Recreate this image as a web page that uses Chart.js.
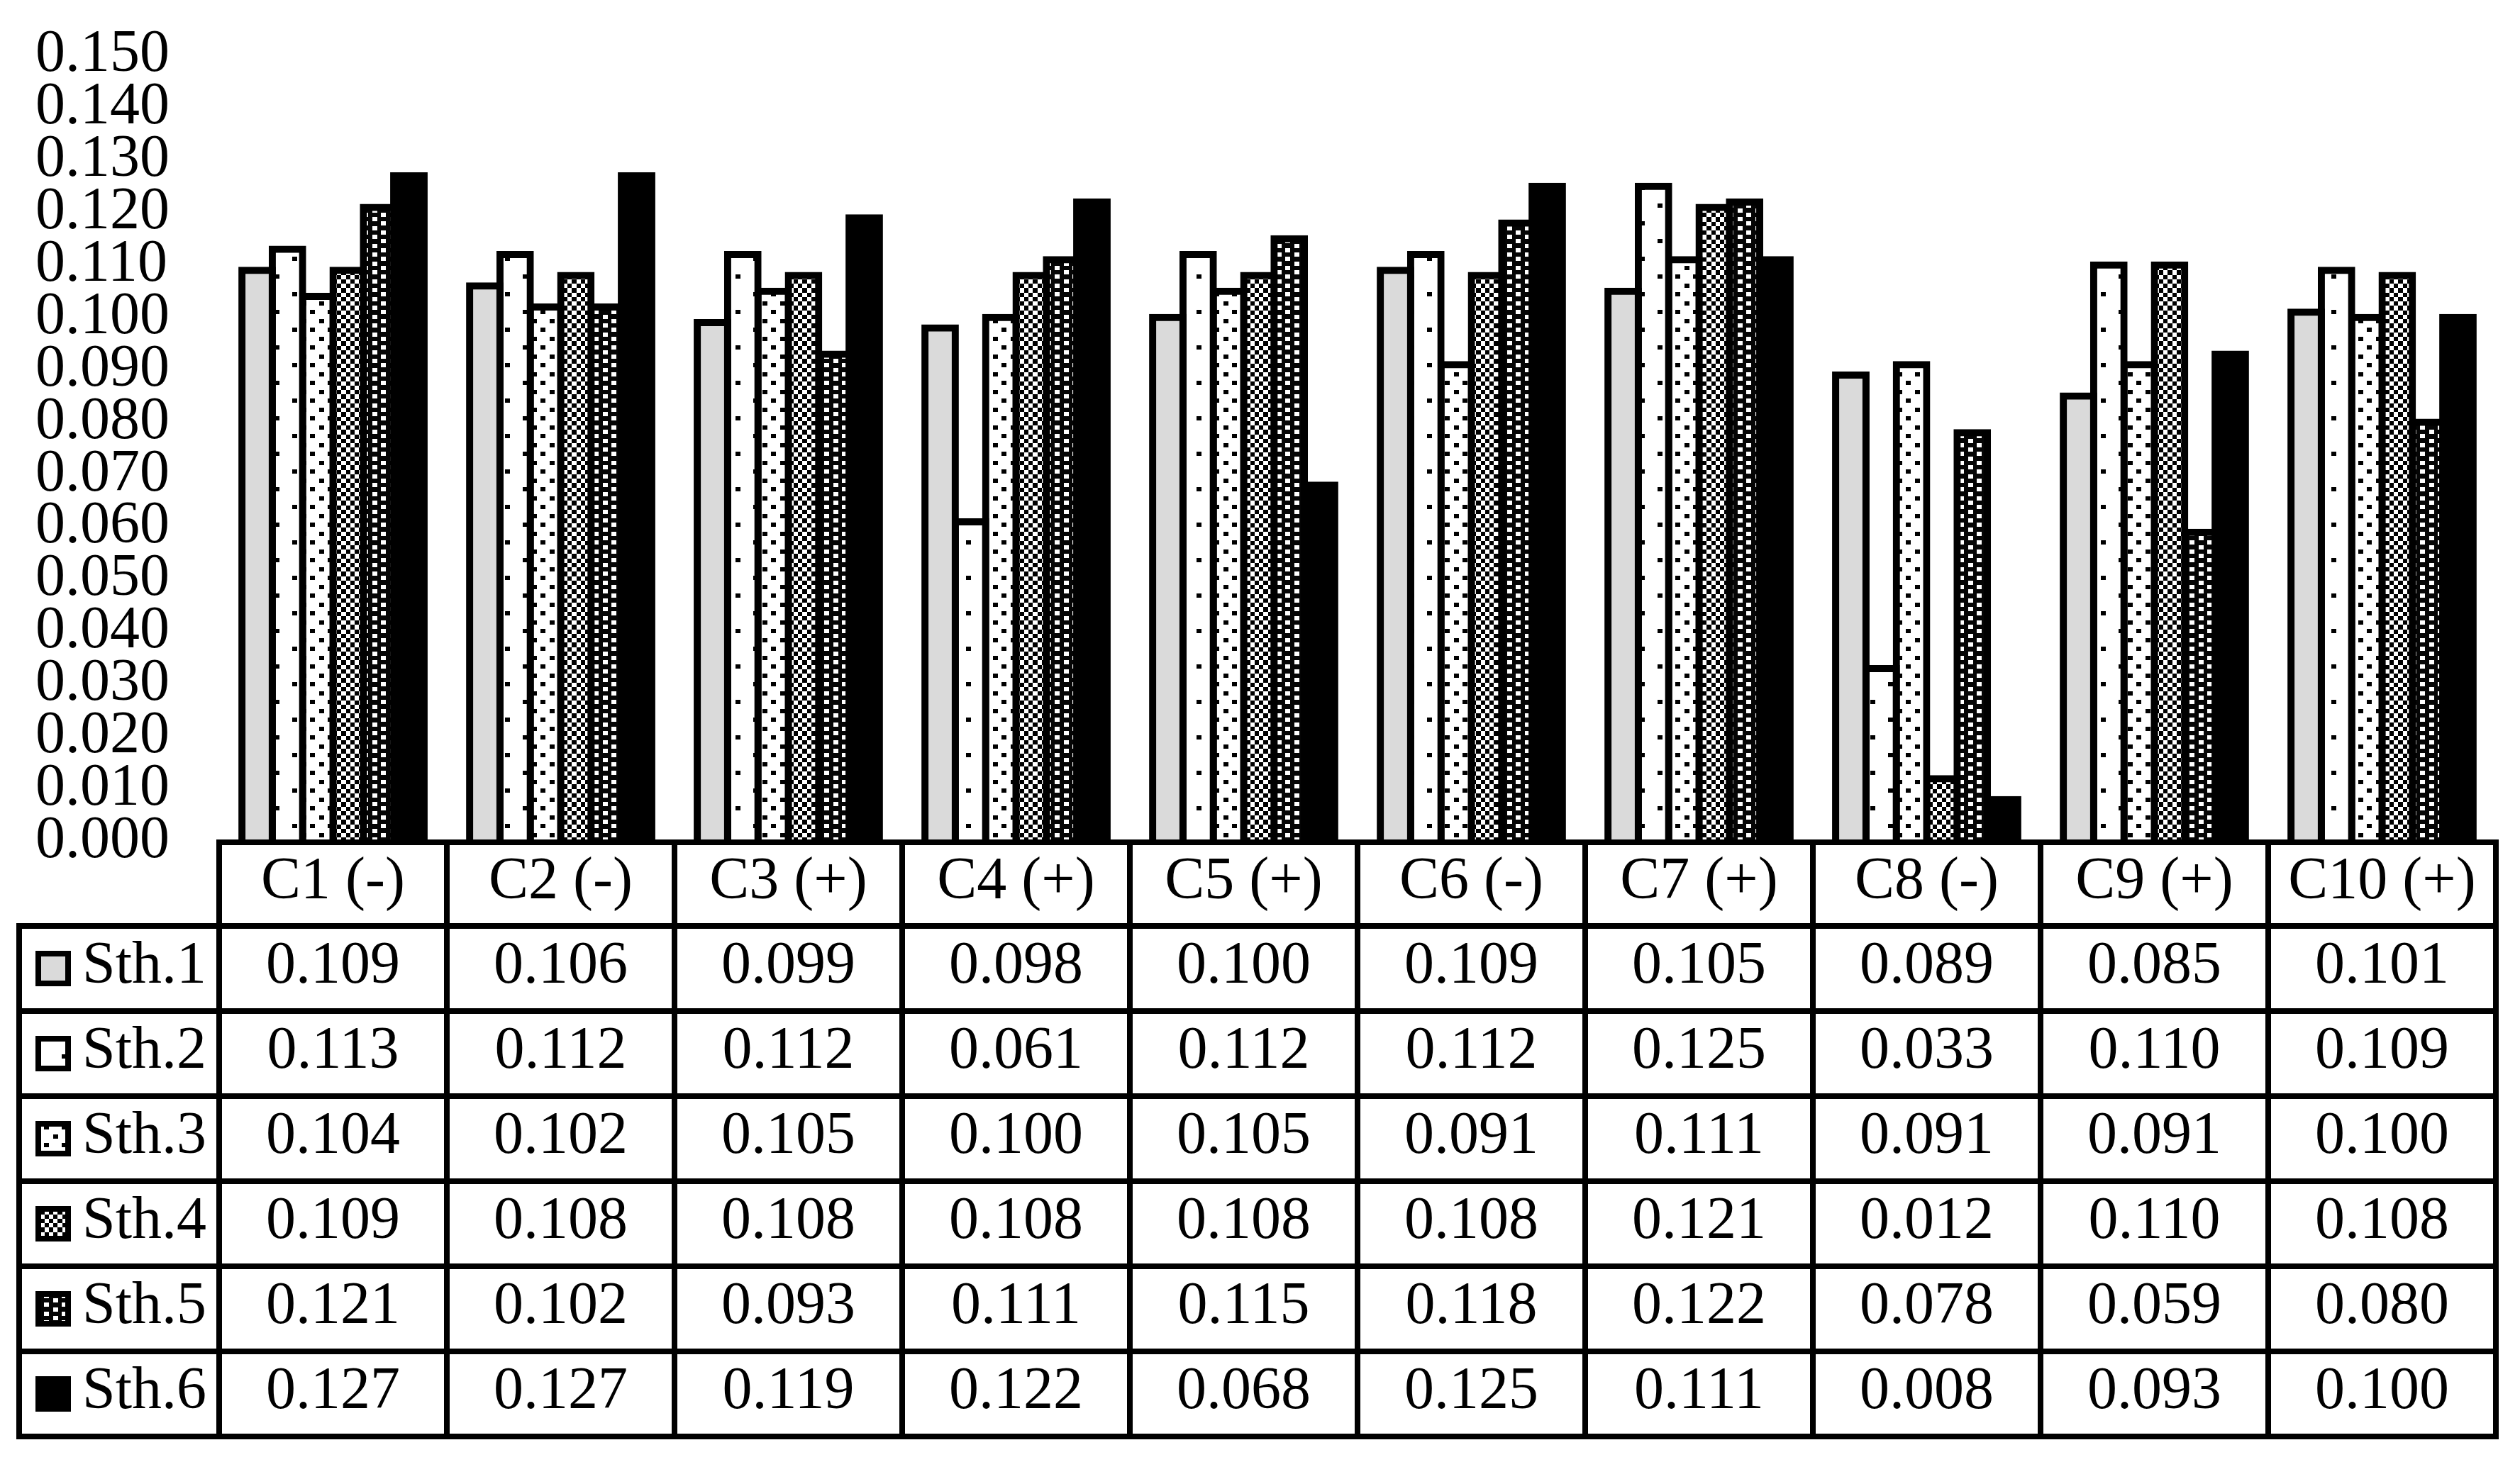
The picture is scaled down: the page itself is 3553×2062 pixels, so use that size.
<!DOCTYPE html>
<html>
<head>
<meta charset="utf-8">
<style>
html,body{margin:0;padding:0;background:#fff;overflow:hidden}
canvas{display:block}
</style>
<script src="https://cdn.jsdelivr.net/npm/chart.js@4/dist/chart.umd.min.js"></script>
</head>
<body>
<canvas id="c" width="3553" height="2062" style="width:3553px;height:2062px"></canvas>
<script>
// ---------------- data ----------------
const categories = ['C1 (-)', 'C2 (-)', 'C3 (+)', 'C4 (+)', 'C5 (+)', 'C6 (-)', 'C7 (+)', 'C8 (-)', 'C9 (+)', 'C10 (+)'];
const seriesNames = ['Sth.1', 'Sth.2', 'Sth.3', 'Sth.4', 'Sth.5', 'Sth.6'];
const sth1 = [0.109, 0.106, 0.099, 0.098, 0.100, 0.109, 0.105, 0.089, 0.085, 0.101];
const sth2 = [0.113, 0.112, 0.112, 0.061, 0.112, 0.112, 0.125, 0.033, 0.110, 0.109];
const sth3 = [0.104, 0.102, 0.105, 0.100, 0.105, 0.091, 0.111, 0.091, 0.091, 0.100];
const sth4 = [0.109, 0.108, 0.108, 0.108, 0.108, 0.108, 0.121, 0.012, 0.110, 0.108];
const sth5 = [0.121, 0.102, 0.093, 0.111, 0.115, 0.118, 0.122, 0.078, 0.059, 0.080];
const sth6 = [0.127, 0.127, 0.119, 0.122, 0.068, 0.125, 0.111, 0.008, 0.093, 0.100];
const yMin = 0.000, yMax = 0.150, yStep = 0.010;

// ---------------- patterns ----------------
const canvas = document.getElementById('c');
const mainCtx = canvas.getContext('2d');
function makePattern(w, h, bg, fg, rects) {
  const t = document.createElement('canvas');
  t.width = w; t.height = h;
  const g = t.getContext('2d');
  g.fillStyle = bg; g.fillRect(0, 0, w, h);
  g.fillStyle = fg;
  rects.forEach(r => g.fillRect(r[0], r[1], r[2], r[3]));
  return mainCtx.createPattern(t, 'repeat');
}
const checkerRects = [];
const edges = [0, 6, 13, 19, 25];
for (let i = 0; i < 4; i++) for (let j = 0; j < 4; j++) {
  if ((i + j) % 2 === 0) checkerRects.push([edges[i], edges[j], edges[i + 1] - edges[i], edges[j + 1] - edges[j]]);
}
const fills = [
  '#dadada',
  makePattern(50, 50, '#ffffff', '#000000', [[12, 12, 7, 6], [37, 37, 7, 6]]),
  makePattern(25, 25, '#ffffff', '#000000', [[0, 0, 7, 6], [12, 12, 7, 6]]),
  makePattern(25, 25, '#ffffff', '#000000', checkerRects),
  makePattern(25, 25, '#050505', '#ffffff', [[0, 6, 7, 6], [0, 19, 7, 6], [12, 0, 7, 6], [12, 12, 7, 6]]),
  '#000000'
];
const seriesValues = [sth1, sth2, sth3, sth4, sth5, sth6];

// ---------------- table plugin ----------------
const tablePlugin = {
  id: 'dataTable',
  afterDraw(chart, args, o) {
    const ctx = chart.ctx;
    const xs = chart.scales.x;
    const ca = chart.chartArea;
    const n = categories.length;
    const colW = (xs.right - xs.left) / n;
    const top = ca.bottom + o.gap;
    const bodyTop = top + o.headerHeight;
    const nRows = chart.data.datasets.length;
    const bottom = bodyTop + nRows * o.rowHeight;
    const lw = o.lineWidth;
    ctx.save();
    ctx.fillStyle = '#000';
    const hline = (x1, x2, y) => ctx.fillRect(x1 - lw / 2, y - lw / 2, x2 - x1 + lw, lw);
    const vline = (x, y1, y2) => ctx.fillRect(x - lw / 2, y1 - lw / 2, lw, y2 - y1 + lw);
    hline(xs.left, xs.right, top);
    for (let r = 0; r <= nRows; r++) hline(o.left, xs.right, bodyTop + r * o.rowHeight);
    vline(o.left, bodyTop, bottom);
    for (let c = 0; c <= n; c++) vline(xs.left + c * colW, top, bottom);

    ctx.font = o.fontSize + 'px "Liberation Serif", "Times New Roman", serif';
    ctx.textBaseline = 'middle';
    ctx.textAlign = 'center';
    categories.forEach((cat, i) => ctx.fillText(cat, xs.getPixelForValue(i), top + o.headerHeight / 2 + o.textShift));
    chart.data.datasets.forEach((ds, r) => {
      const cy = bodyTop + r * o.rowHeight + o.rowHeight / 2;
      ctx.textAlign = 'center';
      ctx.fillStyle = '#000';
      ds.data.forEach((v, i) => ctx.fillText(v.toFixed(3), xs.getPixelForValue(i), cy + o.textShift));
      // swatch
      const s = o.swatchSize, sy = cy - s / 2;
      ctx.fillStyle = '#000';
      ctx.fillRect(o.swatchX, sy, s, s);
      ctx.fillStyle = ds.backgroundColor;
      ctx.fillRect(o.swatchX + o.swatchBorder, sy + o.swatchBorder, s - 2 * o.swatchBorder, s - 2 * o.swatchBorder);
      ctx.fillStyle = '#000';
      ctx.textAlign = 'left';
      ctx.fillText(ds.label, o.labelX, cy + o.textShift);
    });
    ctx.restore();
  }
};

Chart.defaults.font.family = '"Liberation Serif", "Times New Roman", serif';
Chart.defaults.color = '#000';

new Chart(canvas, {
  type: 'bar',
  data: {
    labels: categories,
    datasets: seriesNames.map((name, k) => ({
      label: name,
      data: seriesValues[k],
      backgroundColor: fills[k],
      borderColor: '#000',
      borderWidth: 10,
      borderSkipped: 'start',
      inflateAmount: 5,
      barPercentage: 1.0,
      categoryPercentage: 0.8
    }))
  },
  options: {
    responsive: false,
    devicePixelRatio: 1,
    animation: false,
    layout: { padding: { left: 50, top: 78, right: 34, bottom: 875 } },
    plugins: {
      legend: { display: false },
      tooltip: { enabled: false },
      dataTable: {
        gap: 1, headerHeight: 118, rowHeight: 120, left: 27, lineWidth: 8,
        fontSize: 84, textShift: -2, swatchX: 50, swatchSize: 50, swatchBorder: 8, labelX: 116
      }
    },
    scales: {
      x: { display: false, grid: { display: false } },
      y: {
        min: yMin, max: yMax,
        grid: { display: false, drawTicks: false },
        border: { display: false },
        ticks: {
          stepSize: yStep, autoSkip: false, maxTicksLimit: 30,
          padding: 0,
          crossAlign: 'far',
          font: { size: 84, lineHeight: 1.0 },
          color: '#000',
          callback: v => Number(v).toFixed(3)
        },
        afterFit: s => { s.width = 259; }
      }
    }
  },
  plugins: [tablePlugin]
});
</script>
</body>
</html>
